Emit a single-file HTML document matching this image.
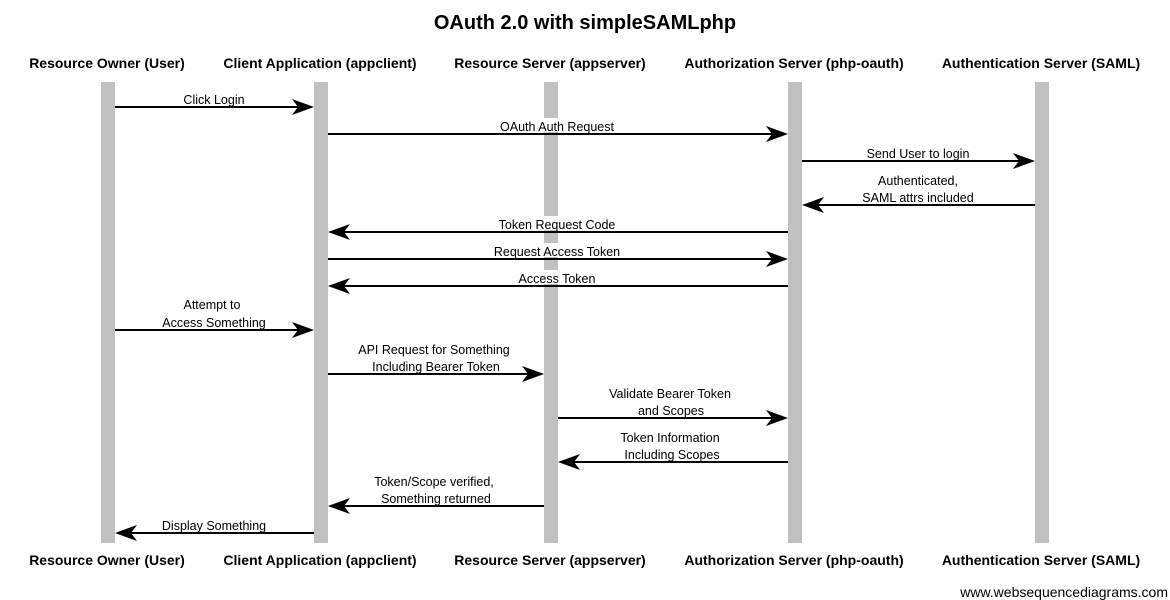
<!DOCTYPE html>
<html><head><meta charset="utf-8"><style>
html,body{margin:0;padding:0;background:#fff;}
svg{display:block;}
text{font-family:"Liberation Sans",Arial,sans-serif;fill:#000;}
.h{font-size:14px;font-weight:bold;}
.l{font-size:12.5px;}
</style></head><body>
<svg width="1170" height="600" viewBox="0 0 1170 600" xmlns="http://www.w3.org/2000/svg">
<rect width="1170" height="600" fill="#fff"/>
<text x="585" y="29" text-anchor="middle" style="font-size:20px;font-weight:bold">OAuth 2.0 with simpleSAMLphp</text>
<g class="h" text-anchor="middle">
<text x="107" y="68" class="h">Resource Owner (User)</text>
<text x="320" y="68" class="h">Client Application (appclient)</text>
<text x="550" y="68" class="h">Resource Server (appserver)</text>
<text x="794" y="68" class="h">Authorization Server (php-oauth)</text>
<text x="1041" y="68" class="h">Authentication Server (SAML)</text>
<text x="107" y="565" class="h">Resource Owner (User)</text>
<text x="320" y="565" class="h">Client Application (appclient)</text>
<text x="550" y="565" class="h">Resource Server (appserver)</text>
<text x="794" y="565" class="h">Authorization Server (php-oauth)</text>
<text x="1041" y="565" class="h">Authentication Server (SAML)</text>
</g>
<g fill="#c0c0c0">
<rect x="101" y="82" width="14" height="461"/>
<rect x="314" y="82" width="14" height="461"/>
<rect x="544" y="82" width="14" height="461"/>
<rect x="788" y="82" width="14" height="461"/>
<rect x="1035" y="82" width="14" height="461"/>
</g>
<g stroke="#000" stroke-width="2">
<line x1="115" y1="107" x2="300" y2="107"/>
<line x1="328" y1="134" x2="774" y2="134"/>
<line x1="802" y1="161" x2="1021" y2="161"/>
<line x1="1035" y1="205" x2="816" y2="205"/>
<line x1="788" y1="232" x2="342" y2="232"/>
<line x1="328" y1="259" x2="774" y2="259"/>
<line x1="788" y1="286" x2="342" y2="286"/>
<line x1="115" y1="330" x2="300" y2="330"/>
<line x1="328" y1="374" x2="530" y2="374"/>
<line x1="558" y1="418" x2="774" y2="418"/>
<line x1="788" y1="462" x2="572" y2="462"/>
<line x1="544" y1="506" x2="342" y2="506"/>
<line x1="314" y1="533" x2="129" y2="533"/>
</g>
<g fill="#000">
<polygon points="314,107 292,99 298,107 292,115"/>
<polygon points="788,134 766,126 772,134 766,142"/>
<polygon points="1035,161 1013,153 1019,161 1013,169"/>
<polygon points="802,205 824,197 818,205 824,213"/>
<polygon points="328,232 350,224 344,232 350,240"/>
<polygon points="788,259 766,251 772,259 766,267"/>
<polygon points="328,286 350,278 344,286 350,294"/>
<polygon points="314,330 292,322 298,330 292,338"/>
<polygon points="544,374 522,366 528,374 522,382"/>
<polygon points="788,418 766,410 772,418 766,426"/>
<polygon points="558,462 580,454 574,462 580,470"/>
<polygon points="328,506 350,498 344,506 350,514"/>
<polygon points="115,533 137,525 131,533 137,541"/>
</g>
<g fill="#fff">
<rect x="484" y="118" width="140" height="14"/>
<rect x="490" y="216" width="130" height="14"/>
<rect x="480" y="243" width="150" height="14"/>
<rect x="510" y="270" width="90" height="14"/>
</g>
<g class="l" text-anchor="middle">
<text x="214" y="104" class="l">Click Login</text>
<text x="557" y="131" class="l">OAuth Auth Request</text>
<text x="918" y="158" class="l">Send User to login</text>
<text x="918" y="185" class="l">Authenticated,</text>
<text x="918" y="202" class="l">SAML attrs included</text>
<text x="557" y="229" class="l">Token Request Code</text>
<text x="557" y="256" class="l">Request Access Token</text>
<text x="557" y="283" class="l">Access Token</text>
<text x="212" y="309" class="l">Attempt to</text>
<text x="214" y="327" class="l">Access Something</text>
<text x="434" y="354" class="l">API Request for Something</text>
<text x="436" y="371" class="l">Including Bearer Token</text>
<text x="670" y="398" class="l">Validate Bearer Token</text>
<text x="671" y="415" class="l">and Scopes</text>
<text x="670" y="442" class="l">Token Information</text>
<text x="672" y="459" class="l">Including Scopes</text>
<text x="434" y="486" class="l">Token/Scope verified,</text>
<text x="436" y="503" class="l">Something returned</text>
<text x="214" y="530" class="l">Display Something</text>
</g>
<text x="1168" y="597" text-anchor="end" style="font-size:14px">www.websequencediagrams.com</text>
</svg>
</body></html>
